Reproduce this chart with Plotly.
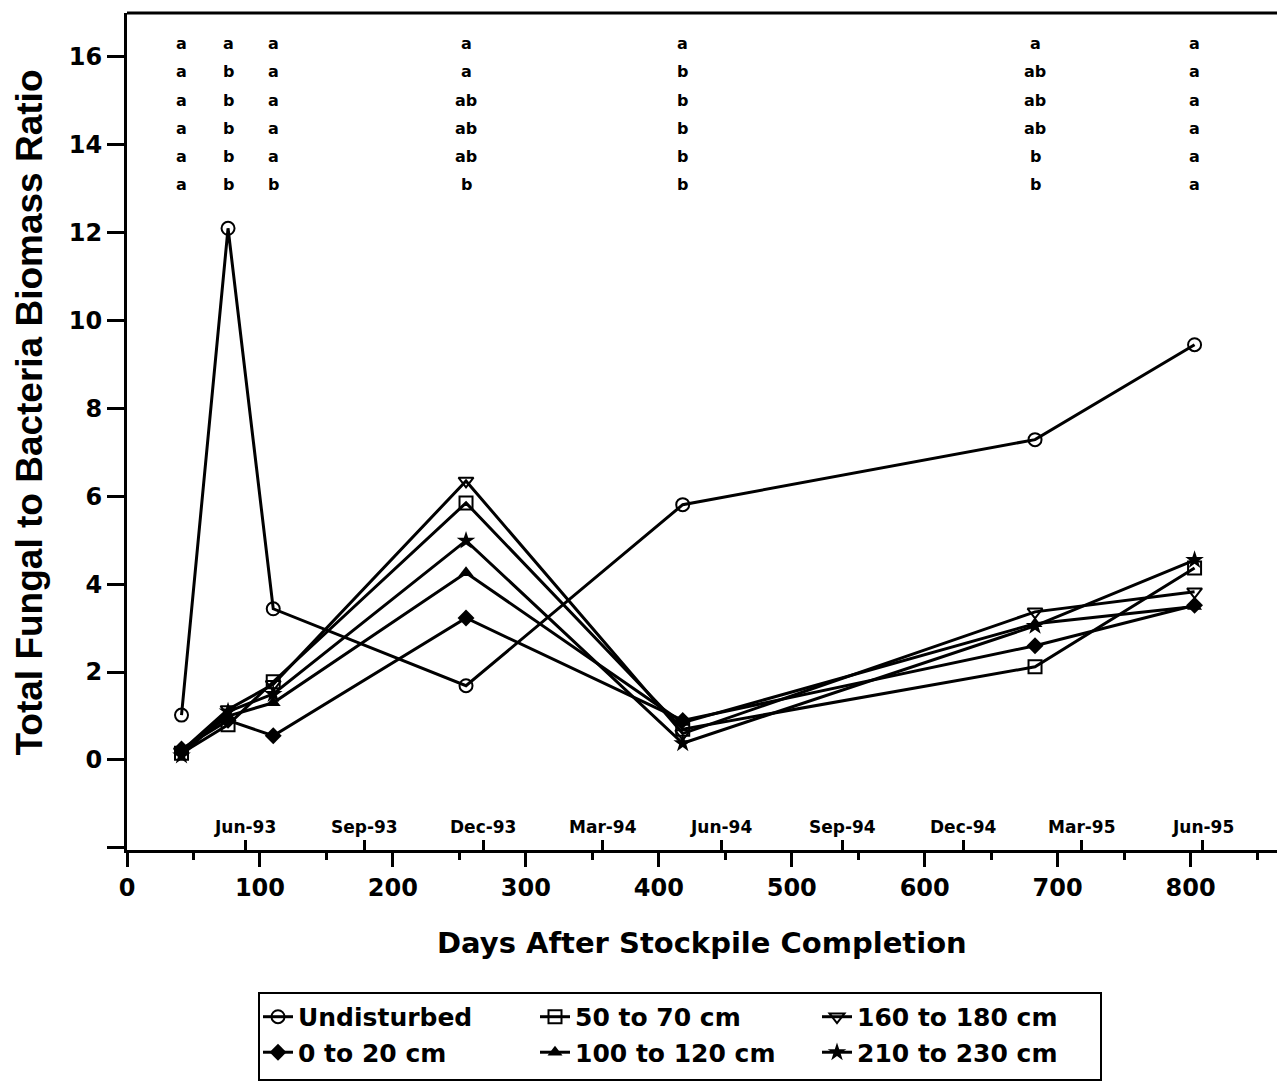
import plotly.graph_objects as go

# ---- data ----
days = [41, 76, 110, 255, 418, 683, 803]
undisturbed = [1.02, 12.1, 3.44, 1.69, 5.81, 7.29, 9.45]
d50_70 = [0.15, 0.80, 1.78, 5.85, 0.70, 2.12, 4.37]
d160_180 = [0.20, 1.15, 1.72, 6.35, 0.60, 3.37, 3.83]
d0_20 = [0.25, 0.90, 0.55, 3.23, 0.90, 2.60, 3.52]
d100_120 = [0.20, 1.00, 1.30, 4.26, 0.85, 3.10, 3.49]
d210_230 = [0.10, 1.10, 1.50, 4.99, 0.38, 3.05, 4.55]

series_names = ["Undisturbed", "0 to 20 cm", "50 to 70 cm",
                "100 to 120 cm", "160 to 180 cm", "210 to 230 cm"]
series_values = [undisturbed, d0_20, d50_70, d100_120, d160_180, d210_230]
series_symbols = ["circle-open", "diamond", "square-open",
                  "triangle-up", "triangle-down-open", "star"]
series_legend = ["legend", "legend", "legend2", "legend2", "legend3", "legend3"]

sig_letters = [
    ["a", "a", "a", "a", "a", "a"],
    ["a", "b", "b", "b", "b", "b"],
    ["a", "a", "a", "a", "a", "b"],
    ["a", "a", "ab", "ab", "ab", "b"],
    ["a", "b", "b", "b", "b", "b"],
    ["a", "ab", "ab", "ab", "b", "b"],
    ["a", "a", "a", "a", "a", "a"],
]

month_days = [89, 179, 268, 358, 447, 538, 629, 718, 809]
month_labels = ["Jun-93", "Sep-93", "Dec-93", "Mar-94", "Jun-94",
                "Sep-94", "Dec-94", "Mar-95", "Jun-95"]

x_ticks = [0, 100, 200, 300, 400, 500, 600, 700, 800]
y_ticks = [-2, 0, 2, 4, 6, 8, 10, 12, 14, 16]
y_ticktext = ["", "0", "2", "4", "6", "8", "10", "12", "14", "16"]

FONT = "DejaVu Sans"
XR = [0, 865]
YR = [-2.05, 17.0]

fig = go.Figure()
for name, vals, sym, lg in zip(series_names, series_values, series_symbols,
                               series_legend):
    is_open = sym.endswith("-open")
    fig.add_trace(go.Scatter(
        x=days, y=vals, name=name, mode="lines+markers", legend=lg,
        line=dict(color="black", width=3),
        marker=dict(symbol=sym, size=13 if sym != "star" else 14,
                    color="black",
                    line=dict(color="black", width=2 if is_open else 0)),
    ))

# dummy trace for month axis
fig.add_trace(go.Scatter(x=[None], y=[None], xaxis="x2", showlegend=False))

annotations = []
for xi, col in zip(days, sig_letters):
    for i, letter in enumerate(col):
        annotations.append(dict(
            x=xi, y=16.3 - 0.64 * i, xref="x", yref="y", text=letter,
            showarrow=False, font=dict(family=FONT, size=16, color="black",
                                       weight="bold")))
for md, ml in zip(month_days, month_labels):
    annotations.append(dict(
        x=md, y=-1.52, xref="x", yref="y", text=ml, showarrow=False,
        font=dict(family=FONT, size=17, color="black", weight="bold")))

annotations.append(dict(
    x=0.5, y=-0.111, xref="paper", yref="paper",
    text="Days After Stockpile Completion", showarrow=False,
    xanchor="center", yanchor="middle",
    font=dict(family=FONT, size=29, color="black", weight="bold")))
annotations.append(dict(
    x=-0.085, y=0.523, xref="paper", yref="paper",
    text="Total Fungal to Bacteria Biomass Ratio", showarrow=False,
    textangle=-90, xanchor="center", yanchor="middle",
    font=dict(family="Liberation Sans", size=37, color="black", weight="bold")))

legend_font = dict(family=FONT, size=25, color="black", weight="bold")


def leg(px):
    return dict(orientation="v", x=(px - 127) / 1150, y=-0.172,
                xanchor="left", yanchor="top", borderwidth=0,
                bgcolor="rgba(0,0,0,0)", font=legend_font,
                traceorder="normal", tracegroupgap=0, itemsizing="trace")


fig.update_layout(
    width=1277, height=1081,
    margin=dict(l=127, r=0, t=13, b=231),
    paper_bgcolor="white", plot_bgcolor="white",
    font=dict(family=FONT, color="black", weight="bold"),
    annotations=annotations,
    shapes=[
        dict(type="line", xref="paper", yref="paper", x0=0, x1=1,
             y0=1, y1=1, line=dict(color="black", width=3)),
        dict(type="rect", xref="paper", yref="paper",
             x0=(259 - 127) / 1150, x1=(1101 - 127) / 1150,
             y0=(850 - 993) / 837, y1=(850 - 1080) / 837,
             line=dict(color="black", width=2)),
    ],
    xaxis=dict(range=XR, tickvals=x_ticks, ticks="outside", ticklen=14,
               tickwidth=3, tickcolor="black", showline=True, linewidth=3,
               linecolor="black", showgrid=False, zeroline=False,
               tickfont=dict(family=FONT, size=24, color="black", weight="bold"),
               minor=dict(dtick=50, tick0=0, ticks="outside", ticklen=7,
                          tickwidth=3, tickcolor="black")),
    xaxis2=dict(range=XR, overlaying="x", anchor="y", side="bottom",
                tickvals=month_days, ticks="inside", ticklen=10, tickwidth=3,
                tickcolor="black", showticklabels=False, showline=False,
                showgrid=False, zeroline=False),
    yaxis=dict(range=YR, tickvals=y_ticks, ticktext=y_ticktext,
               ticks="outside", ticklen=17, tickwidth=3, tickcolor="black",
               showline=True, linewidth=3, linecolor="black",
               showgrid=False, zeroline=False,
               tickfont=dict(family=FONT, size=24, color="black", weight="bold")),
    legend=leg(258),
    legend2=leg(535),
    legend3=leg(817),
)

fig.write_html("out.html")
